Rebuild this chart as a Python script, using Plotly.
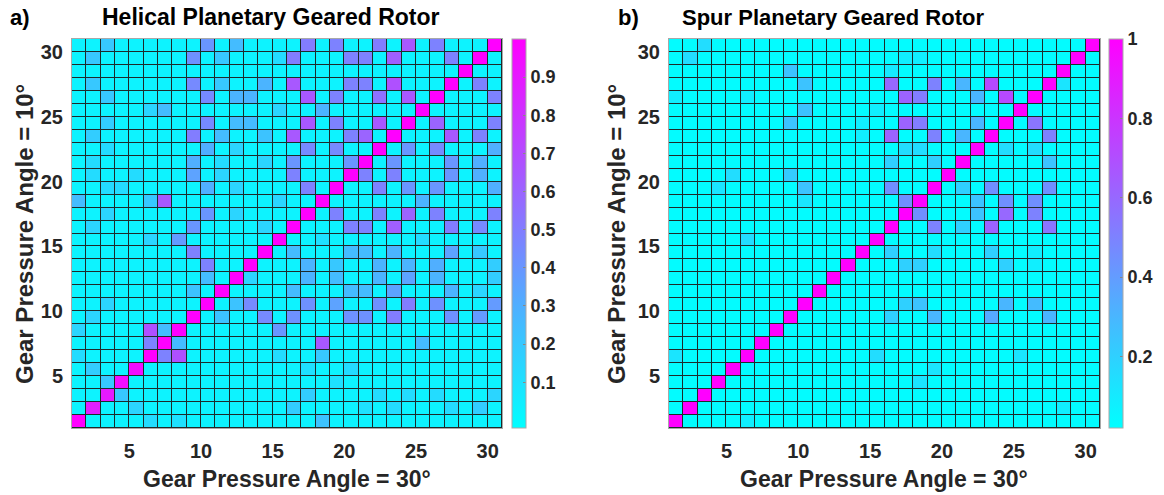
import plotly.graph_objects as go

# ---------------- data (percent values, rows listed from top row y=30 down to y=1) -------------
helical_rows_top_down = [
    [3,3,20,3,3,3,3,3,3,40,3,25,3,3,3,3,50,3,48,3,3,50,3,65,3,48,3,3,3,100],
    [3,20,3,3,3,3,3,3,42,3,20,3,3,3,12,50,3,3,3,48,48,3,62,3,3,3,48,3,100,3],
    [3,3,3,3,3,3,3,3,3,3,3,3,3,3,3,3,3,3,3,3,3,3,3,3,3,3,3,100,3,3],
    [3,20,3,3,3,3,3,3,45,3,20,3,3,28,3,65,3,3,3,48,48,3,68,3,3,3,100,3,48,3],
    [3,3,20,3,3,3,3,3,3,45,3,28,28,3,3,3,65,3,48,3,3,55,3,65,3,100,3,3,3,48],
    [3,3,3,3,3,15,25,3,3,3,3,3,3,3,15,3,3,28,3,3,3,3,3,3,100,3,3,3,3,3],
    [3,3,18,3,3,3,3,3,3,45,3,25,25,3,3,3,65,3,48,3,3,65,3,100,3,60,3,3,3,48],
    [3,18,3,3,3,3,3,3,50,3,25,3,3,22,3,65,3,3,3,48,60,3,100,3,3,3,65,3,48,3],
    [3,3,12,3,3,3,3,3,3,30,3,15,3,3,3,3,45,3,45,3,3,100,3,40,3,45,3,3,3,30],
    [3,12,3,3,3,3,3,3,30,3,12,3,3,15,3,40,3,3,3,40,100,3,40,3,3,3,40,3,30,3],
    [3,12,3,3,12,3,3,3,35,3,15,3,3,3,3,48,3,3,3,100,48,3,48,3,3,3,40,3,30,3],
    [3,3,12,12,3,3,3,3,3,30,3,15,3,3,3,3,48,3,100,3,3,48,3,40,3,40,3,3,3,30],
    [25,3,3,3,3,20,65,3,3,3,3,3,3,3,15,3,3,100,3,3,3,3,3,3,28,3,3,3,3,3],
    [3,3,15,3,3,3,3,3,3,40,3,15,3,3,3,3,100,3,48,3,3,48,3,60,3,48,3,3,3,48],
    [3,15,3,3,3,3,3,3,40,3,3,3,3,15,3,100,3,3,3,48,48,3,62,3,3,3,50,3,45,3],
    [3,3,3,3,3,15,3,38,3,3,3,3,3,3,100,3,3,10,3,3,3,3,3,3,12,3,3,3,3,3],
    [3,3,3,3,3,3,3,3,48,3,3,3,3,100,3,25,3,3,3,25,25,3,28,3,3,3,35,3,20,3],
    [3,3,3,3,3,3,3,3,3,48,3,3,100,3,3,3,28,3,20,3,3,28,3,28,3,30,3,3,3,18],
    [3,3,3,3,3,3,3,3,3,25,3,100,15,3,3,3,28,3,25,3,3,28,3,35,3,28,3,3,3,18],
    [3,3,3,3,3,3,3,3,22,3,100,3,3,3,3,25,3,3,3,25,25,3,35,3,3,3,28,3,15,3],
    [3,3,15,3,3,3,3,3,3,100,3,22,45,3,3,3,42,3,35,3,3,42,3,50,3,42,3,3,3,38],
    [3,15,3,3,3,3,3,3,100,3,22,3,3,45,3,42,3,3,3,42,42,3,50,3,3,3,42,3,38,3],
    [15,3,3,3,3,68,25,100,3,3,3,3,3,3,40,3,3,3,3,3,3,3,3,3,3,3,3,3,3,3],
    [3,3,3,3,3,48,100,25,3,3,3,3,3,3,3,3,3,65,3,3,3,3,3,3,25,3,3,3,3,3],
    [12,3,3,3,3,100,48,68,3,3,3,3,3,3,12,3,3,20,3,3,3,3,3,3,3,3,3,3,3,3],
    [3,18,3,3,95,3,3,3,3,3,3,3,3,3,3,3,10,3,3,12,3,3,3,3,3,3,3,3,3,3],
    [3,3,20,95,3,3,3,3,3,3,3,3,3,3,3,3,3,3,10,3,3,3,3,3,3,3,3,3,3,3],
    [3,3,90,20,3,3,3,3,3,3,3,3,3,3,3,3,18,3,3,3,3,12,3,12,3,12,3,3,3,15],
    [3,88,3,3,15,3,3,3,3,3,3,3,3,3,3,18,3,3,3,3,10,3,12,3,3,3,12,3,18,3],
    [100,3,3,3,3,12,3,10,3,3,3,3,3,3,3,3,3,22,3,3,3,3,3,3,3,3,3,3,3,3],
]

spur_rows_top_down = [
    [3,3,15,3,3,3,3,3,3,3,3,3,3,3,3,3,3,3,3,3,3,3,3,3,3,3,3,3,3,100],
    [3,15,3,3,3,3,3,3,3,3,3,3,3,3,3,3,8,8,3,3,3,3,3,3,3,3,3,3,100,3],
    [3,3,3,3,3,3,3,3,25,3,3,3,3,3,3,10,3,3,3,3,3,3,3,3,3,3,3,100,3,3],
    [3,3,3,3,3,3,3,3,3,25,3,3,3,3,3,60,3,3,50,3,30,3,72,3,3,3,100,12,3,3],
    [8,3,3,3,3,8,3,3,3,3,3,3,3,3,3,3,62,52,3,3,3,30,3,72,3,100,3,3,3,3],
    [3,3,3,3,3,3,3,3,3,25,3,3,3,3,8,3,3,3,3,3,3,3,3,3,100,3,3,3,3,3],
    [3,3,3,3,3,3,3,3,25,3,3,3,3,8,3,3,62,52,3,3,3,30,3,100,3,55,3,3,3,3],
    [3,3,3,3,3,3,3,3,3,3,3,3,3,8,3,62,3,3,50,3,30,3,100,3,3,3,50,3,3,3],
    [3,3,3,3,3,3,3,3,3,3,3,3,3,3,3,3,15,15,3,3,3,100,3,15,3,15,3,3,3,3],
    [3,3,3,3,3,3,3,3,3,3,3,3,3,3,3,20,3,3,20,3,100,3,3,3,3,3,25,3,3,3],
    [3,3,3,3,15,3,3,3,22,3,3,3,3,3,3,3,3,3,3,100,3,3,3,3,3,3,3,3,3,3],
    [3,3,3,12,3,3,3,3,3,25,3,3,3,3,3,45,3,3,100,3,20,3,45,3,3,3,45,3,3,3],
    [3,3,3,3,3,3,3,3,3,12,3,3,3,3,3,3,45,100,3,3,3,25,3,45,3,45,3,3,3,3],
    [3,3,3,3,3,3,3,3,3,3,3,3,3,3,3,3,100,45,3,3,3,25,3,60,3,50,3,3,3,3],
    [3,3,3,3,3,3,3,3,3,3,3,3,3,3,3,100,3,3,50,3,20,3,62,3,3,3,55,3,3,3],
    [3,3,3,3,3,15,3,3,3,3,3,3,3,3,100,3,3,3,3,3,3,3,3,3,3,3,3,3,3,3],
    [3,3,3,3,3,3,3,3,3,3,3,3,3,100,3,20,3,3,15,3,3,3,20,3,3,8,3,3,3,3],
    [3,3,3,3,3,3,3,3,3,3,3,3,100,3,3,3,20,20,3,3,3,3,3,20,3,8,3,3,3,3],
    [3,3,3,3,3,3,3,3,3,3,3,100,3,3,3,3,3,3,3,3,3,3,3,3,3,3,3,3,3,3],
    [3,3,3,3,3,3,3,3,3,3,100,3,3,3,3,3,3,3,3,3,3,3,3,3,3,3,3,3,3,3],
    [3,3,3,3,3,3,3,3,3,100,3,3,3,3,3,3,20,25,3,3,3,3,3,30,3,28,3,3,3,3],
    [3,3,3,3,3,3,3,3,100,3,3,3,3,3,3,20,3,3,30,3,3,3,35,3,3,3,30,3,3,3],
    [3,3,3,3,3,3,3,100,3,3,3,3,3,3,3,3,3,3,3,3,3,3,3,3,3,3,3,3,3,3],
    [3,3,3,3,3,3,100,3,3,3,3,3,3,3,3,3,3,3,3,3,3,3,3,3,3,3,3,3,3,3],
    [12,3,3,3,3,100,3,3,3,3,3,3,3,3,15,3,3,3,3,3,3,3,3,3,12,3,3,3,3,3],
    [3,3,3,3,100,3,3,3,3,3,3,3,3,3,3,3,3,3,12,3,3,3,3,3,3,3,3,3,3,3],
    [3,3,3,100,3,3,3,3,3,3,3,3,3,3,3,3,3,12,3,3,3,3,3,3,3,3,3,3,3,3],
    [3,3,100,3,3,3,3,3,3,3,3,3,3,3,3,3,3,3,3,3,3,3,3,3,3,3,3,3,3,3],
    [3,100,3,3,3,3,3,3,3,3,3,3,3,3,3,3,3,3,3,3,3,3,3,3,3,3,3,8,3,3],
    [100,3,3,3,3,8,3,3,3,3,3,3,3,3,3,3,3,3,3,3,3,3,3,3,3,3,3,3,3,3],
]

cell_edges = list(range(1, 32))          # 30 cells per axis, pcolor style edges 1..31
axis_ticks = [5, 10, 15, 20, 25, 30]
cbar_ticks_a = [0.1, 0.2, 0.3, 0.4, 0.5, 0.6, 0.7, 0.8, 0.9]
cbar_ticks_b = [0.2, 0.4, 0.6, 0.8, 1.0]
cbar_text_b = ["0.2", "0.4", "0.6", "0.8", "1"]

titles = ["Helical Planetary Geared Rotor", "Spur Planetary Geared Rotor"]
panel_tags = ["a)", "b)"]
x_title = "Gear Pressure Angle = 30°"
y_title = "Gear Pressure Angle = 10°"

# ---------------------------------------------------------------------------------------------
W, H = 1164, 495
def px_x(p): return p / W
def px_y(p): return 1 - p / H

za = [[v / 100 for v in r] for r in reversed(helical_rows_top_down)]
zb = [[v / 100 for v in r] for r in reversed(spur_rows_top_down)]

cool = [[0, "rgb(0,255,255)"], [1, "rgb(255,0,255)"]]
FONT = "Liberation Sans, Arial, sans-serif"
TXT = "#262626"

top, bot = 39, 428
ymid = px_y((top + bot) / 2)
plen = bot - top

def cbar(xpix, vals, text=None):
    return dict(
        x=px_x(xpix), xanchor="left", xref="paper",
        y=ymid, yanchor="middle", yref="paper",
        len=plen, lenmode="pixels", thickness=14, thicknessmode="pixels",
        outlinecolor="#a8a8a8", outlinewidth=1,
        tickvals=vals, ticktext=text, ticks="inside", ticklen=3, tickcolor="#888",
        tickfont=dict(family=FONT, size=18, color=TXT, weight="bold"),
        xpad=0, ypad=0,
    )

fig = go.Figure()
fig.add_trace(go.Heatmap(
    z=za, x=cell_edges, y=cell_edges, colorscale=cool, zmin=-0.02, zmax=1.0,
    xgap=1, ygap=1, xaxis="x", yaxis="y", colorbar=cbar(512, cbar_ticks_a), hoverinfo="skip"))
fig.add_trace(go.Heatmap(
    z=zb, x=cell_edges, y=cell_edges, colorscale=cool, zmin=0.02, zmax=1.0,
    xgap=1, ygap=1, xaxis="x2", yaxis="y2", colorbar=cbar(1109, cbar_ticks_b, cbar_text_b), hoverinfo="skip"))

def ax(dom, anchor, standoff):
    return dict(domain=dom, anchor=anchor, range=[1, 31], tickvals=axis_ticks,
                showgrid=False, zeroline=False, showline=True, linecolor="#a8a8a8",
                linewidth=1, mirror=True, ticks="", fixedrange=True,
                ticklabelstandoff=standoff,
                tickfont=dict(family=FONT, size=20, color=TXT, weight="bold"))

fig.update_layout(
    width=W, height=H, margin=dict(l=0, r=0, t=0, b=0),
    paper_bgcolor="white", plot_bgcolor="#1d2b2b", showlegend=False,
    xaxis=ax([px_x(72), px_x(502)], "y", 5),
    yaxis=ax([px_y(bot), px_y(top)], "x", 4),
    xaxis2=ax([px_x(669), px_x(1100)], "y2", 5),
    yaxis2=ax([px_y(bot), px_y(top)], "x2", 4),
)

ann = []
def t(text, x, y, size, color="black", angle=0):
    ann.append(dict(text=text, x=px_x(x), y=px_y(y), xref="paper", yref="paper",
                    showarrow=False, xanchor="center", yanchor="middle", textangle=angle,
                    font=dict(family=FONT, size=size, color=color, weight="bold")))

t(panel_tags[0], 20, 17, 22)
t(panel_tags[1], 628, 17, 22)
t(titles[0], 271, 17, 23)
t(titles[1], 833, 17, 22)
t(x_title, 287, 479, 23, TXT)
t(x_title, 884, 479, 23, TXT)
t(y_title, 25, 234, 24, TXT, -90)
t(y_title, 617, 234, 24, TXT, -90)
fig.update_layout(annotations=ann)

fig.write_html("out.html")
